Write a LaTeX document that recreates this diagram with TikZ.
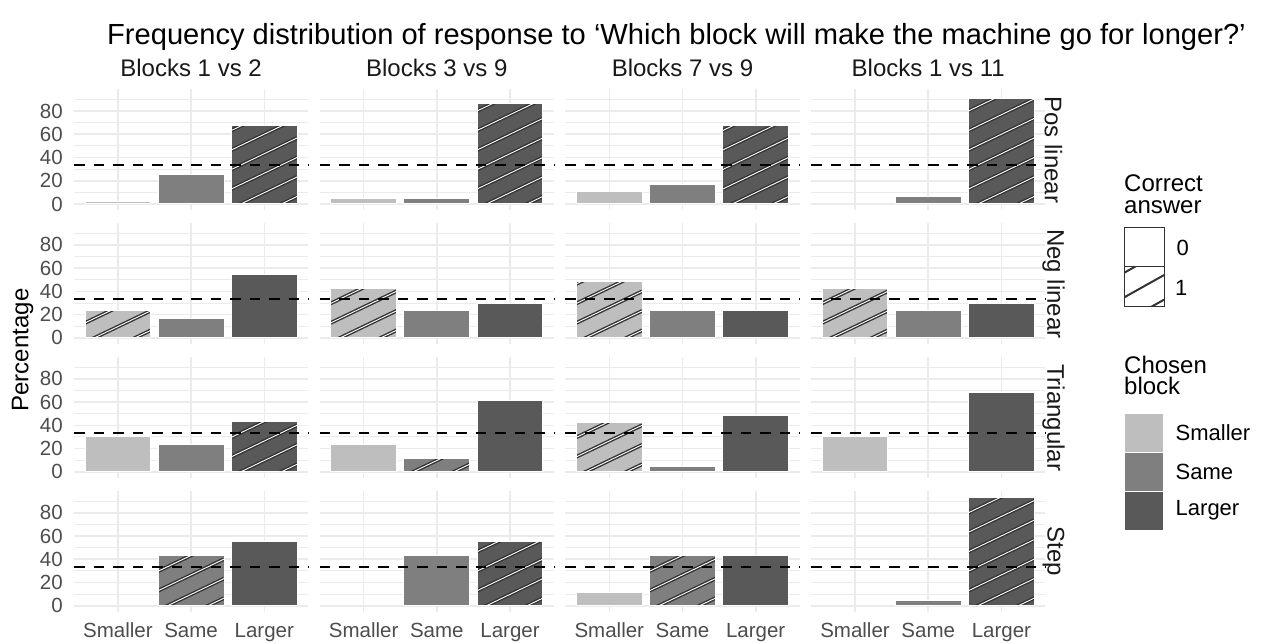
\documentclass[tikz,border=0pt]{standalone}
\usepackage{fontspec}
\setmainfont{Liberation Sans}
\usetikzlibrary{positioning}
\definecolor{gridgrey}{HTML}{EBEBEB}
\definecolor{smallergrey}{HTML}{BEBEBE}
\definecolor{samegrey}{HTML}{7F7F7F}
\definecolor{largergrey}{HTML}{595959}
\definecolor{stripegrey}{HTML}{333333}
\definecolor{axisgrey}{HTML}{4D4D4D}
\begin{document}
\begin{tikzpicture}[x=1pt,y=-1pt,every node/.style={inner sep=0pt},
  major/.style={draw=gridgrey,line width=1.6pt},
  minor/.style={draw=gridgrey,line width=0.9pt},
  bar/.style={draw=white,line width=1pt},
  stripe/.style={draw=stripegrey,double=white,double distance=0.9pt,line width=1.4pt},
  chance/.style={draw=black,line width=1.8pt,dash pattern=on 10.5pt off 9pt},
  ticklabel/.style={text=axisgrey,font=\fontsize{20.5}{24}\selectfont},
  striplabel/.style={text=black!90,font=\fontsize{24}{28}\selectfont},
  keytitle/.style={anchor=north west,align=left,font=\fontsize{24}{21.6}\selectfont},
  keytext/.style={anchor=west,font=\fontsize{22}{24}\selectfont}]
\fill[white] (0,0) rectangle (1263,644);
\useasboundingbox (0,0) rectangle (1263,644);
\foreach \r in {0,...,3}{
\foreach \c in {0,...,3}{
\pgfmathsetmacro\xo{74+245.7*\c}
\pgfmathsetmacro\zo{204+133.9*\r}
\foreach \g in {10,30,...,90} \draw[minor] (\xo,\zo-\g*1.1625) -- ++(234.2,0);
\foreach \g in {0,20,...,80} \draw[major] (\xo,\zo-\g*1.1625) -- ++(234.2,0);
\foreach \k in {0,1,2} \draw[major] (\xo+43.9+73.2*\k,\zo-98.6*1.1625) -- (\xo+43.9+73.2*\k,\zo+5.5*1.1625);
};};
\foreach \r/\c/\vs/\vm/\vl/\h in {
 0/0/2.3/25.5/67.4/2, 0/1/4.3/4.3/86.6/2, 0/2/10.6/17.2/67.7/2, 0/3/0/6.6/90.9/2,
 1/0/23.2/16.9/54.7/0, 1/1/42.1/23.2/29.5/0, 1/2/48.4/23.2/23.2/0, 1/3/42.1/23.2/29.5/0,
 2/0/30.1/23.5/43.0/2, 2/1/23.5/11.2/61.4/1, 2/2/42.7/4.9/48.8/0, 2/3/30.1/0/68.0/9,
 3/0/0/43.0/55.6/1, 3/1/0/43.0/55.6/2, 3/2/11.2/43.0/43.0/1, 3/3/0/4.9/93.5/2}{
\pgfmathsetmacro\xo{74+245.7*\c}
\pgfmathsetmacro\zo{204+133.9*\r}
\foreach \k/\v/\f in {0/\vs/smallergrey,1/\vm/samegrey,2/\vl/largergrey}{
\pgfmathsetmacro\bl{\xo+11+73.2*\k}
\pgfmathsetmacro\bt{\zo-\v*1.1625}
\ifdim\v pt>0pt
\fill[\f] (\bl,\zo) rectangle (\bl+65.8,\bt);
\ifnum\k=\h
\begin{scope}
\clip (\bl,\zo) rectangle (\bl+65.8,\bt);
\foreach \j in {0,...,8} \draw[stripe] (\bl,\zo+24-\j*19.5) -- ++(65.8,-31.6);
\end{scope}
\fi
\draw[bar] (\bl,\zo) rectangle (\bl+65.8,\bt);
\fi
};
\draw[chance] (\xo,\zo-33.33*1.1625) -- ++(234.2,0);
};
\node[anchor=base west,font=\fontsize{29.1}{32}\selectfont] (title) at (107,45)
  {Frequency distribution of response to ‘Which block will make the machine go for longer?’};
\foreach \c/\t in {0/Blocks 1 vs 2,1/Blocks 3 vs 9,2/Blocks 7 vs 9,3/Blocks 1 vs 11}
  \node[striplabel,anchor=base] (strip\c) at (191.1+245.7*\c,77) {\t};
\foreach \r/\t in {0/Pos linear,1/Neg linear,2/Triangular,3/Step}
  \node[striplabel,rotate=-90] (facet\r) at (1053.5,149.9+133.9*\r) {\t};
\foreach \r in {0,...,3}
  \foreach \g in {0,20,...,80}
    \node[ticklabel,anchor=east] (ylab\r-\g) at (63,204+133.9*\r-\g*1.1625) {\g};
\foreach \c in {0,...,3}
  \foreach \k/\t in {0/Smaller,1/Same,2/Larger}
    \node[ticklabel,anchor=base] (xlab\c\k) at (117.9+73.2*\k+245.7*\c,637.5) {\t};
\node[rotate=90,font=\fontsize{24}{28}\selectfont] (ytitle) at (22.5,350) {Percentage};
\node[keytitle] (correcttitle) at (1124,174.5) {Correct\\answer};
\draw[draw=stripegrey,line width=0.9pt] (1124.3,227.3) rectangle (1164,266.7);
\draw[draw=stripegrey,line width=0.9pt] (1124.3,266.7) rectangle (1164,306);
\begin{scope}
\clip (1124.3,266.7) rectangle (1164,306);
\foreach \j in {-1,0,1,2} \draw[stripegrey,line width=2pt] (1124.3,272.7+24.6*\j) -- ++(39.7,-22.2);
\end{scope}
\node[keytext] (key0) at (1176.5,248.3) {0};
\node[keytext] (key1) at (1175,288.3) {1};
\node[keytitle] (chosentitle) at (1124,355.8) {Chosen\\block};
\foreach \k/\f/\t in {0/smallergrey/Smaller,1/samegrey/Same,2/largergrey/Larger}{
\draw[bar,fill=\f] (1124.8,413.7+38.8*\k) rectangle ++(38.8,38.8);
\node[keytext] (keyfill\k) at (1175.5,433.1+38.8*\k) {\t};
};
\end{tikzpicture}
\end{document}
